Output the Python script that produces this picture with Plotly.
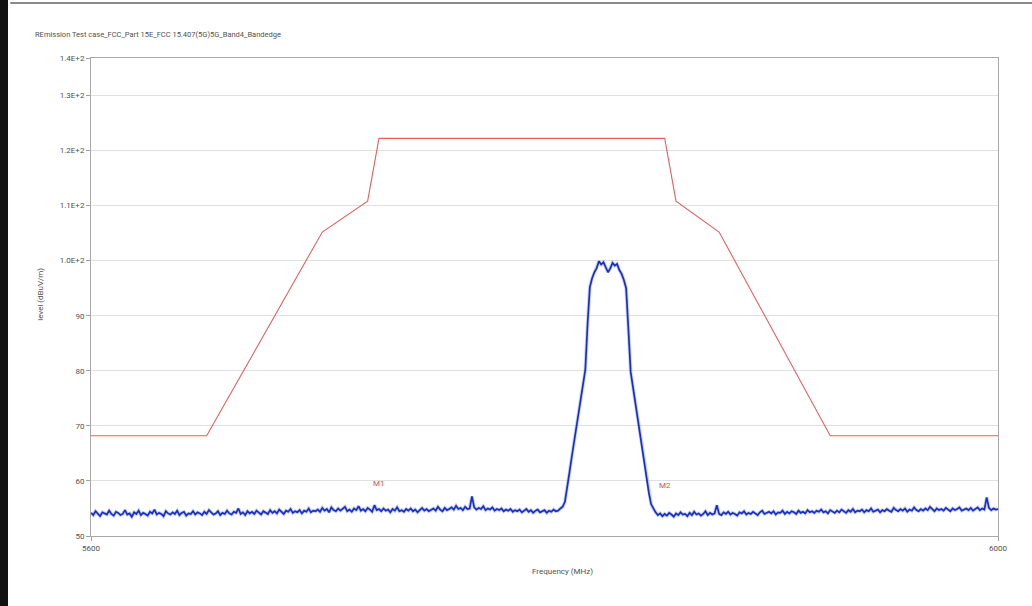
import numpy as np
import plotly.graph_objects as go

# ---------------- data ----------------
FREQ_START = 5600
FREQ_STOP = 6000

# measured level (dBuV/m), one reading per MHz, 5600 .. 6000 MHz
level_floor_low = [
    54.2, 53.8, 54.5, 54.0, 53.6, 54.3, 54.1, 53.9, 54.6, 54.0,
    53.7, 54.4, 54.2, 53.8, 54.0, 54.7, 53.9, 54.1, 53.5, 54.3,
    54.0, 54.6, 53.8, 54.2, 54.0, 53.7, 54.4, 54.1, 54.8, 53.9,
    54.2, 54.0, 53.6, 54.5, 54.1, 53.9, 54.3, 54.0, 54.6, 53.8,
    54.2, 54.4, 53.7, 54.1, 54.0, 54.5, 53.9, 54.3, 54.1, 53.8,
    54.4, 54.0, 54.7, 54.2, 53.9, 54.1, 54.5, 53.8, 54.2, 54.0,
    54.6, 54.1, 53.9, 54.4, 54.2, 55.0, 54.0, 54.3, 53.8, 54.5,
    54.1, 54.4, 54.0, 54.6, 54.2, 53.9, 54.5, 54.3, 54.0, 54.7,
    54.2, 54.5, 54.1, 54.8, 54.3, 54.0, 54.6, 54.4, 54.9, 54.2,
    54.5, 54.3, 54.7, 54.1, 54.6, 54.4, 55.0, 54.3, 54.6, 54.5,
]
level_floor_mid = [
    54.8, 54.4, 55.1, 54.6, 54.9, 54.3, 55.2, 54.7, 54.5, 55.0,
    54.6, 54.9, 55.3, 54.5, 54.8, 54.4, 55.0, 54.7, 55.4, 54.6,
    54.9, 54.5, 55.1, 54.8, 54.4, 55.6, 54.7, 54.9, 54.5, 55.0,
    54.6, 54.8, 54.3, 54.9, 54.6, 55.2, 54.5, 54.7, 54.4, 54.9,
    54.6, 55.0, 54.5, 54.8, 54.3, 54.7, 55.1, 54.6, 54.9, 54.5,
    54.7, 55.0, 54.6, 55.3, 54.8, 54.5, 55.1, 54.7, 54.9, 55.2,
    54.8, 55.5, 54.9, 55.1, 54.7, 55.3, 54.9, 55.0, 57.2, 55.2,
    54.8, 55.1, 54.9, 55.4, 54.7, 55.0, 54.8, 55.2, 54.6, 54.9,
    54.7, 55.0, 54.5, 54.8, 54.6, 54.9, 54.4, 54.7, 54.5, 54.8,
    54.3, 54.6, 54.9, 54.4, 54.7, 54.2, 54.6, 54.8, 54.3, 54.5,
    54.7, 54.2, 54.6, 54.4, 54.8, 54.5,
]
level_signal = [
    54.6, 55.0, 55.3, 56.2, 58.5, 61.5, 64.3, 67.0, 69.8, 72.4,
    75.1, 77.6, 80.2, 88.5, 95.2, 96.8, 97.9, 98.6, 99.9, 99.3,
    99.7, 98.8, 97.9, 98.6, 99.6, 99.1, 99.4, 98.3, 97.6, 96.5,
    95.0, 87.5, 79.8, 77.1, 74.3, 71.6, 68.8, 66.0, 63.1, 60.4,
    57.9, 55.8, 54.9,
]
level_floor_high = [
    54.3, 53.8, 54.1, 53.6, 54.0, 53.7, 54.2, 53.9, 53.5, 54.1,
    53.8, 54.3, 53.9, 54.0, 53.6, 54.2, 53.8, 54.4, 53.9, 54.1,
    53.7, 54.0, 54.5, 53.8, 54.2, 53.9, 54.1, 55.6, 54.0, 53.8,
    54.3, 54.0, 54.4, 53.9, 54.2, 54.0, 53.7, 54.3, 54.1, 54.5,
    53.9, 54.2, 54.0, 54.4, 54.1, 53.8, 54.3, 54.6, 54.0, 54.2,
    54.4, 54.1, 54.5, 53.9, 54.3, 54.2, 54.6, 54.0, 54.4, 54.1,
    54.5, 54.3, 54.0, 54.6, 54.2, 54.4, 54.1, 54.7, 54.3, 54.5,
    54.2, 54.6, 54.4, 54.8, 54.3, 54.5, 54.1, 54.7, 54.4, 54.2,
    54.6, 54.3, 54.8, 54.5, 54.2, 54.7, 54.4, 54.9, 54.3, 54.6,
    54.5, 54.8, 54.3, 54.7, 54.5, 55.0, 54.4, 54.6, 54.8, 54.3,
    54.7, 54.5, 54.9, 54.6, 54.4, 55.1, 54.7, 54.5, 54.9, 54.6,
    55.0, 54.4, 54.8, 54.6, 55.2, 54.7, 54.5, 54.9, 54.6, 55.0,
    54.7, 55.3, 54.8, 54.5, 55.0, 54.7, 54.9, 54.6, 55.1, 54.8,
    54.5, 55.0, 54.7, 54.9, 55.2, 54.6, 54.8, 55.0, 54.7, 55.1,
    54.6, 54.9, 55.2, 54.7, 55.0, 54.8, 57.0, 55.1, 54.7, 55.0,
    54.8, 54.9,
]

# limit line (FCC 15.407 band 4 mask)
limit_freq = [5600, 5651, 5702, 5722, 5727, 5853, 5858, 5877, 5926, 6000]
limit_level = [68.2, 68.2, 105.2, 110.8, 122.2, 122.2, 110.8, 105.2, 68.2, 68.2]

# markers
marker_names = ["M1", "M2"]
marker_freq = [5727, 5853]
marker_level = [59.6, 59.2]

# axis ticks
y_tick_vals = [50, 60, 70, 80, 90, 100, 110, 120, 130, 136.8]
y_tick_text = ["50", "60", "70", "80", "90", "1.0E+2", "1.1E+2", "1.2E+2", "1.3E+2", "1.4E+2"]
x_tick_vals = [5600, 6000]
x_tick_text = ["5600", "6000"]

title_text = "REmission Test case_FCC_Part 15E_FCC 15.407(5G)5G_Band4_Bandedge"
x_title = "Frequency (MHz)"
y_title = "level (dBuV/m)"

# ---------------- figure ----------------
levels = level_floor_low + level_floor_mid + level_signal + level_floor_high
freqs = np.linspace(FREQ_START, FREQ_STOP, len(levels))

FONT = "Liberation Sans Narrow, Roboto, DejaVu Sans, sans-serif"

fig = go.Figure()
fig.add_trace(go.Scatter(
    x=limit_freq, y=limit_level, mode="lines",
    line=dict(color="#e46060", width=1.1), hoverinfo="skip", showlegend=False,
))
# light halo under the trace
fig.add_trace(go.Scatter(
    x=freqs, y=levels, mode="lines",
    line=dict(color="rgba(90,120,230,0.35)", width=3.5), hoverinfo="skip", showlegend=False,
))
fig.add_trace(go.Scatter(
    x=freqs, y=levels, mode="lines",
    line=dict(color="#1a2ec4", width=1.7), showlegend=False,
))

for name, fx, fy in zip(marker_names, marker_freq, marker_level):
    fig.add_annotation(x=fx, y=fy, text=name, showarrow=False,
                       font=dict(family=FONT, size=8, color="#e0503c"),
                       xanchor="center", yanchor="middle")

# titles placed as annotations
fig.add_annotation(xref="paper", yref="paper", x=-0.064, y=1.035, text=title_text,
                   showarrow=False, xanchor="left", yanchor="bottom",
                   font=dict(family=FONT, size=7.5, color="#505050"))
fig.add_annotation(xref="paper", yref="paper", x=0.52, y=-0.075, text=x_title,
                   showarrow=False, xanchor="center", yanchor="middle",
                   font=dict(family=FONT, size=8, color="#505050"))
fig.add_annotation(xref="paper", yref="paper", x=-0.056, y=0.505, text=y_title,
                   showarrow=False, xanchor="center", yanchor="middle", textangle=-90,
                   font=dict(family=FONT, size=8, color="#505050"))

# window chrome seen in the screenshot
fig.add_shape(type="rect", xref="paper", yref="paper", x0=-0.1004, x1=-0.0915, y0=-0.2, y1=1.2,
              fillcolor="#111111", line=dict(width=0), layer="above")
fig.add_shape(type="line", xref="paper", yref="paper", x0=-0.089, x1=1.04, y0=1.115, y1=1.115,
              line=dict(color="#8a8a8a", width=2), layer="above")

fig.update_layout(
    width=1032, height=606,
    margin=dict(l=91, r=34, t=58, b=70),
    paper_bgcolor="white", plot_bgcolor="white",
    font=dict(family=FONT, size=8, color="#505050"),
)
fig.update_xaxes(
    range=[FREQ_START, FREQ_STOP], tickvals=x_tick_vals, ticktext=x_tick_text,
    showgrid=False, zeroline=False,
    showline=True, linecolor="#a9a9a9", linewidth=1, mirror=True,
    ticks="outside", ticklen=4, tickcolor="#a0a0a0",
    tickfont=dict(family=FONT, size=8, color="#505050"),
)
fig.update_yaxes(
    range=[50, 136.8], tickvals=y_tick_vals, ticktext=y_tick_text,
    showgrid=True, gridcolor="#e0e0e0", gridwidth=1, zeroline=False,
    showline=True, linecolor="#a9a9a9", linewidth=1, mirror=True,
    ticks="outside", ticklen=4, tickcolor="#a0a0a0",
    tickfont=dict(family=FONT, size=8, color="#505050"),
)

fig.write_html("out.html", config={"displayModeBar": False},
               post_script="document.body.style.margin='0';document.body.style.overflow='hidden';")
